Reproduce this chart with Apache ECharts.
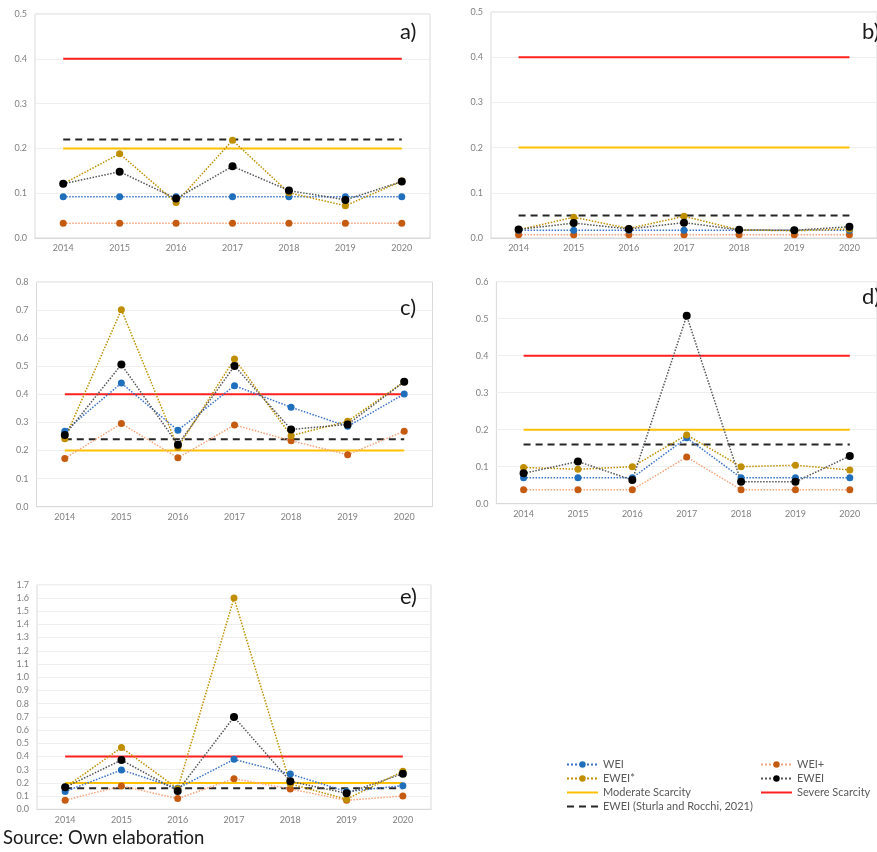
<!DOCTYPE html>
<html><head><meta charset="utf-8">
<script src="https://cdn.jsdelivr.net/npm/echarts@6/dist/echarts.min.js"></script>
<style>html,body{margin:0;padding:0;background:#fff}#c{width:877px;height:852px}</style>
</head><body><div id="c"></div>
<script>
const years = ['2014','2015','2016','2017','2018','2019','2020'];

// panel a
const weiA      = [0.092,0.092,0.092,0.092,0.092,0.092,0.092];
const weiPlusA  = [0.033,0.033,0.033,0.033,0.033,0.033,0.033];
const eweiStarA = [0.121,0.188,0.079,0.218,0.101,0.072,0.127];
const eweiA     = [0.121,0.148,0.088,0.160,0.106,0.085,0.126];
const sturlaA   = [0.22,0.22,0.22,0.22,0.22,0.22,0.22];
// panel b
const weiB      = [0.017,0.017,0.017,0.017,0.017,0.017,0.017];
const weiPlusB  = [0.007,0.007,0.007,0.007,0.007,0.007,0.007];
const eweiStarB = [0.018,0.046,0.021,0.048,0.018,0.016,0.020];
const eweiB     = [0.019,0.033,0.020,0.034,0.018,0.017,0.025];
const sturlaB   = [0.05,0.05,0.05,0.05,0.05,0.05,0.05];
// panel c
const weiC      = [0.269,0.440,0.272,0.431,0.354,0.286,0.401];
const weiPlusC  = [0.172,0.296,0.174,0.291,0.235,0.185,0.269];
const eweiStarC = [0.242,0.701,0.211,0.526,0.253,0.304,0.445];
const eweiC     = [0.255,0.506,0.221,0.501,0.275,0.293,0.445];
const sturlaC   = [0.24,0.24,0.24,0.24,0.24,0.24,0.24];
// panel d
const weiD      = [0.070,0.070,0.070,0.178,0.070,0.070,0.070];
const weiPlusD  = [0.038,0.038,0.038,0.126,0.038,0.038,0.038];
const eweiStarD = [0.098,0.093,0.100,0.186,0.100,0.104,0.091];
const eweiD     = [0.082,0.114,0.064,0.508,0.059,0.059,0.129];
const sturlaD   = [0.16,0.16,0.16,0.16,0.16,0.16,0.16];
// panel e
const weiE      = [0.134,0.298,0.159,0.378,0.267,0.134,0.179];
const weiPlusE  = [0.068,0.177,0.081,0.232,0.154,0.068,0.101];
const eweiStarE = [0.166,0.467,0.156,1.599,0.192,0.076,0.288];
const eweiE     = [0.166,0.373,0.139,0.699,0.212,0.121,0.270];
const sturlaE   = [0.16,0.16,0.16,0.16,0.16,0.16,0.16];

const moderate = [0.2,0.2,0.2,0.2,0.2,0.2,0.2];
const severe   = [0.4,0.4,0.4,0.4,0.4,0.4,0.4];

const yMax = [0.5, 0.5, 0.8, 0.6, 1.7];
const panelLabels = ['a)','b)','c)','d)','e)'];

const panels = [
  {wei: weiA, weiPlus: weiPlusA, eweiStar: eweiStarA, ewei: eweiA, sturla: sturlaA},
  {wei: weiB, weiPlus: weiPlusB, eweiStar: eweiStarB, ewei: eweiB, sturla: sturlaB},
  {wei: weiC, weiPlus: weiPlusC, eweiStar: eweiStarC, ewei: eweiC, sturla: sturlaC},
  {wei: weiD, weiPlus: weiPlusD, eweiStar: eweiStarD, ewei: eweiD, sturla: sturlaD},
  {wei: weiE, weiPlus: weiPlusE, eweiStar: eweiStarE, ewei: eweiE, sturla: sturlaE}
];

// layout
const grids = [
  {left: 35,  top: 14,  width: 395, height: 224},
  {left: 491, top: 12,  width: 396, height: 226},
  {left: 36.5,top: 282, width: 396, height: 224.7},
  {left: 496.4,top: 281.7, width: 390.6, height: 222},
  {left: 37,  top: 584.7, width: 394, height: 224.6}
];
const labelPos = [[400,21],[862,21],[400,297],[862,286],[400,586]];

const FONT = 'Lato, "Liberation Sans", sans-serif';
const chart = echarts.init(document.getElementById('c'), null, {renderer: 'canvas'});

const xAxes = [], yAxes = [], series = [], graphics = [];
grids.forEach((g, i) => {
  xAxes.push({
    type: 'category', gridIndex: i, data: years, boundaryGap: true,
    axisLine: {show: true, lineStyle: {color: '#d9d9d9'}},
    axisTick: {show: false},
    axisLabel: {color: '#808080', fontSize: 9, fontFamily: FONT, margin: 6}
  });
  yAxes.push({
    type: 'value', gridIndex: i, min: 0, max: yMax[i], interval: 0.1,
    axisLine: {show: false}, axisTick: {show: false},
    splitLine: {show: true, lineStyle: {color: '#efefef'}},
    axisLabel: {color: '#808080', fontSize: 9, fontFamily: FONT, margin: 8,
      formatter: v => v.toFixed(1)}
  });
  const p = panels[i];
  series.push(
    {name: 'Moderate Scarcity', type: 'line', xAxisIndex: i, yAxisIndex: i, data: moderate,
      symbol: 'none', lineStyle: {color: '#ffc000', width: 2}, itemStyle: {color: '#ffc000'}, silent: true},
    {name: 'Severe Scarcity', type: 'line', xAxisIndex: i, yAxisIndex: i, data: severe,
      symbol: 'none', lineStyle: {color: '#ff2020', width: 2}, itemStyle: {color: '#ff2020'}, silent: true},
    {name: 'EWEI (Sturla and Rocchi, 2021)', type: 'line', xAxisIndex: i, yAxisIndex: i, data: p.sturla,
      symbol: 'none', lineStyle: {color: '#262626', width: 2, type: [7, 5]}, itemStyle: {color: '#262626'}, silent: true},
    {name: 'WEI+', type: 'line', xAxisIndex: i, yAxisIndex: i, data: p.weiPlus,
      symbol: 'circle', symbolSize: 7, itemStyle: {color: '#c55a11'},
      lineStyle: {color: '#f4a47a', width: 1.5, type: 'dotted'}},
    {name: 'WEI', type: 'line', xAxisIndex: i, yAxisIndex: i, data: p.wei,
      symbol: 'circle', symbolSize: 7, itemStyle: {color: '#1f6fbd'},
      lineStyle: {color: '#3a72c8', width: 1.5, type: 'dotted'}},
    {name: 'EWEI*', type: 'line', xAxisIndex: i, yAxisIndex: i, data: p.eweiStar,
      symbol: 'circle', symbolSize: 7, itemStyle: {color: '#bf8f00'},
      lineStyle: {color: '#c09000', width: 1.5, type: 'dotted'}},
    {name: 'EWEI', type: 'line', xAxisIndex: i, yAxisIndex: i, data: p.ewei,
      symbol: 'circle', symbolSize: 8, itemStyle: {color: '#000000'},
      lineStyle: {color: '#555555', width: 1.5, type: 'dotted'}}
  );
  graphics.push({type: 'text', left: labelPos[i][0], top: labelPos[i][1], z: 100,
    style: {text: panelLabels[i], font: '22px ' + FONT, fill: '#1a1a1a'}});
});
graphics.push({type: 'text', left: 3, top: 829, z: 100,
  style: {text: 'Source: Own elaboration', font: '18.5px ' + FONT, fill: '#1a1a1a'}});

const legendCommon = {
  orient: 'vertical', itemWidth: 31, itemHeight: 8, itemGap: 3, selectedMode: false,
  textStyle: {color: '#595959', fontSize: 11, fontFamily: FONT}
};
const noSym = name => ({name: name, itemStyle: {opacity: 0}});

chart.setOption({
  backgroundColor: '#ffffff',
  animation: false,
  grid: grids.map(g => Object.assign({show: true, borderColor: '#d9d9d9', borderWidth: 1}, g)),
  xAxis: xAxes,
  yAxis: yAxes,
  legend: [
    Object.assign({left: 561, top: 754, data: ['WEI','EWEI*',noSym('Moderate Scarcity'),noSym('EWEI (Sturla and Rocchi, 2021)')]}, legendCommon),
    Object.assign({left: 755, top: 754, data: ['WEI+','EWEI',noSym('Severe Scarcity')]}, legendCommon)
  ],
  graphic: graphics,
  series: series
});
</script></body></html>
